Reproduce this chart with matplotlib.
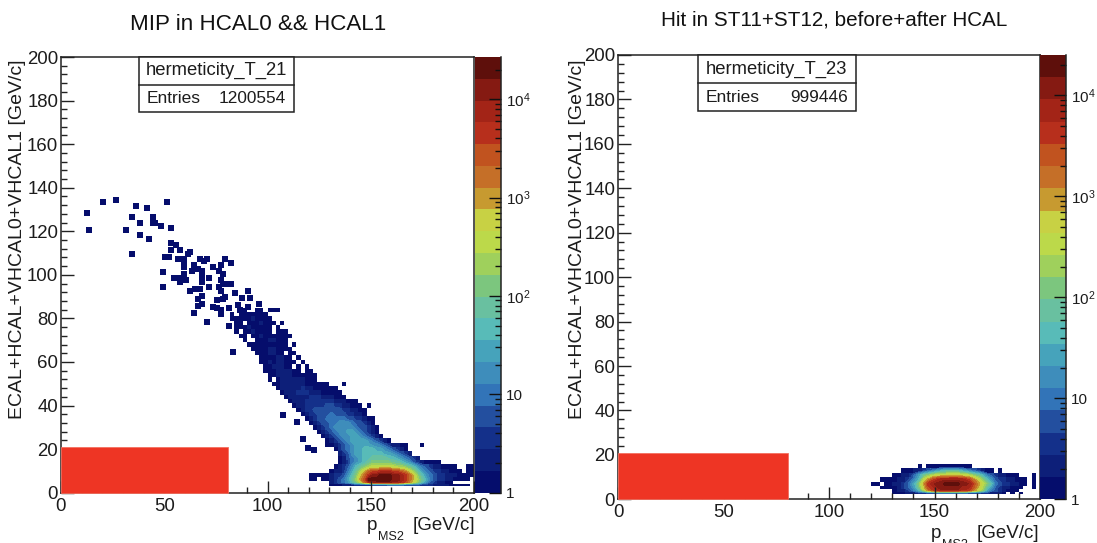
import numpy as np
import matplotlib
matplotlib.use("Agg")
import matplotlib.pyplot as plt
from matplotlib.colors import ListedColormap, BoundaryNorm
from matplotlib.patches import Rectangle
from matplotlib.ticker import LogLocator, FixedLocator, FixedFormatter, NullFormatter, MultipleLocator

plt.rcParams.update({
    "font.family": ["Liberation Sans", "DejaVu Sans"],
    "mathtext.fontset": "custom",
    "mathtext.rm": "Liberation Sans",
    "mathtext.it": "Liberation Sans",
    "mathtext.default": "rm",
})

W, H = 1097, 543

band_colors = ["#050d6c", "#0d1f79", "#14308a", "#234f9f", "#3274b8", "#3e8dbb", "#46a3bb",
               "#58bbb8", "#69c0a0", "#7cc67e", "#9fd05c", "#bcd94a", "#c8d144", "#c79a30",
               "#c56f28", "#c1531f", "#b72f1c", "#a32417", "#851a12", "#5e0f0b"]

panel_titles = ["MIP in HCAL0 && HCAL1", "Hit in ST11+ST12, before+after HCAL"]
hist_names = ["hermeticity_T_21", "hermeticity_T_23"]
entries = ["1200554", "999446"]
y_label = "ECAL+HCAL+VHCAL0+VHCAL1 [GeV/c]"

# left panel: isolated single-entry cells
sparse_x = [12.6, 13.55, 20.5, 26.5, 36.5, 41.5, 51.5, 34.5, 44.5, 38.4, 44.5, 45.5, 48.4, 53.4, 31.5,
            38.4, 42.4, 34.5, 53.4, 55.5, 57.5, 53.4, 62.4, 61.5, 50.5, 52.5, 56.5, 59.5, 67.5, 70.5,
            69.4, 79.4, 82.5, 77.4, 73.4, 59.5, 59.5, 64.4, 66.5, 68.4, 63.6, 76.5, 78.6, 49.5, 59.5,
            59.5, 54.5, 56.5, 60.5, 57.6, 68.4, 68.4, 71.5, 77.6, 78.6, 80.5, 82.5, 49.5, 71.5, 76.5,
            64.7, 62.4, 67.5, 77.4, 84.5, 90.5, 68.4, 66.5, 75.5, 79.4, 78.6, 87.5, 91.5, 85.5, 96.0,
            68.4, 66.5, 73.4, 75.5, 77.6, 81.5, 90.5, 86.6, 64.4, 77.6, 70.5, 81.5, 83.4,
            107.3, 114.4, 117.3, 119.4, 122.3]
sparse_y = [128.4, 120.4, 133.3, 134.3, 131.5, 130.5, 133.3, 126.5, 126.5, 123.6, 123.6, 123.6, 122.5, 121.4, 120.4,
            118.5, 116.5, 109.5, 114.6, 113.6, 111.3, 111.3, 110.6, 109.5, 108.4, 108.4, 107.5, 107.5, 107.5, 107.5,
            106.4, 107.5, 105.5, 104.5, 103.5, 105.5, 103.5, 104.5, 102.6, 101.7, 101.7, 101.7, 100.6, 101.5, 100.6,
            98.8, 98.5, 98.5, 97.6, 96.5, 98.8, 96.5, 98.5, 97.6, 95.6, 95.6, 95.6, 94.5, 94.5, 94.5,
            93.6, 92.5, 93.6, 92.7, 91.6, 92.5, 90.5, 88.7, 88.4, 90.0, 88.7, 89.5, 89.5, 86.0, 86.6,
            86.6, 85.7, 85.4, 85.0, 84.0, 84.6, 85.4, 83.8, 82.6, 82.0, 78.5, 76.6, 64.7,
            35.6, 32.6, 24.8, 20.6, 19.6]

# cell levels: '.' empty, 1-9, a=10 ... k=20 (colour band of each cell)
left_row_y = [84, 82, 80, 78, 76, 74, 72, 70, 68, 66, 64, 62, 60, 58, 56, 54, 52, 50, 48, 46, 44,
              42, 40, 38, 36, 34, 32, 30, 28, 26, 24, 22, 20, 18, 16, 14, 12, 10, 8, 6, 4.7, 3.7]
left_row_x = [86, 82, 82, 84, 84, 84, 86, 88, 90, 92, 94, 96, 96, 98, 98, 100, 100, 102, 104, 106, 108,
              110, 112, 114, 116, 118, 120, 122, 124, 126, 128, 128, 132, 134, 134, 134, 132, 130, 120, 120, 130, 130]
left_row_levels = [
    "11..11.111", "1.1111111", "1111121111", "11.1112111.1", "111211111.1", "1.1121111.111",
    "11.1121111111", "1..11122111", "1111111111.1", "1111221111", "1112211.11", "11112211.1",
    "112122111.1", "1122211.1.1", "111222211.11", "112222111111", "1.1222222111", "11222222111111...1",
    "122222322111111", "122233322211111", "122222333222111", "12223333333222111", "12233333443322111.1",
    "12334444444332211", "1233444544433221", "12344555554433211", "1234455666544321", "1234566666544321",
    "123456677654321", "123456677654321", "1234567777654321", "11234567777665432211...1",
    "134567788877654321", "234677888887765432", "12456788999988765432", "12356789aaaaa998764321111",
    "1234689abccccccbba986543221111..11", "1223579bdfgghhhggfeca86543322111.11",
    "11111233468adfhjjkkkjjihfda8654332221111", "11.11234579begkkkkkkjjihfdb975433221111.11",
    "234568acfhijjjjiihgeca86432211", "1112223333444455554444333222211111"]

right_row_y = [15, 13, 11, 9, 7, 5, 3.9, 2.9]
right_row_x = [142, 134, 130, 124, 120, 124, 130, 130]
right_row_levels = [
    "1.11111111111", "1112234567888876543211.1",
    "11223579abcccdddccba9754322111...1", "1111223468ceghiiiiiihgeca8643322111.1",
    "11.11223468behijjkkkkjjigeca854332211.1", "111123457adghijjjjjiihfdb864322111..1",
    "1223468beghiiiiihhgeca75432111", "111222334455555555444332221.1.1"]

cbar_decades = [4.43, 4.40]
red_box_x = [80.8, 80.6]
red_box_y = [21.0, 20.7]

axes_px = [(61, 57, 474, 492.7), (618, 55, 1040, 499.3)]
cbar_px = [(475, 57, 500.7, 492.7), (1040, 55, 1066, 499.3)]
box_px = [(138.7, 84.7, 294, 112), (698, 83, 855.7, 111)]
title_xy = [(258, 24), (834, 20)]
title_size = [16.1, 14.9]
ylabel_x = [18, 578]
p_px = [367, 931]
sub_px = [378, 942]
unit_px = [475, 1039]
label_base = [530, 538]


def rect(px):
    x0, y0, x1, y1 = px
    return [x0 / W, 1 - y1 / H, (x1 - x0) / W, (y1 - y0) / H]


def to_grid(row_y, row_x, row_levels):
    chars = ".123456789abcdefghijk"
    xs = np.arange(78, 200, 2)
    ys = np.array(sorted(row_y), dtype=float)
    L = np.zeros((len(ys), len(xs)))
    for y, x0, s in zip(row_y, row_x, row_levels):
        j = int(np.argmin(np.abs(ys - y)))
        i0 = int((x0 - 78) / 2)
        for k, c in enumerate(s):
            if i0 + k < len(xs):
                L[j, i0 + k] = chars.index(c)
    return xs, ys, L


fig = plt.figure(figsize=(W / 100, H / 100), dpi=100, facecolor="white")
rows = [(left_row_y, left_row_x, left_row_levels), (right_row_y, right_row_x, right_row_levels)]

for p in range(2):
    ax = fig.add_axes(rect(axes_px[p]))
    xs, ys, L = to_grid(*rows[p])
    xe = np.append(xs, xs[-1] + 2)
    ye = np.concatenate([[ys[0] - 0.5], (ys[:-1] + ys[1:]) / 2, [ys[-1] + 1]])
    bounds = 10 ** (np.arange(21) * cbar_decades[p] / 20)
    cmap = ListedColormap(band_colors)
    norm = BoundaryNorm(bounds, 20)
    counts = np.ma.masked_where(L == 0, 10 ** ((L - 0.5) * cbar_decades[p] / 20))
    ax.pcolormesh(xe, ye, counts, cmap=cmap, norm=norm, zorder=1)
    ax.contourf(xs + 1, ys, L, levels=np.arange(3.5, 21.5), colors=band_colors[3:20], zorder=1.2)
    if p == 0:
        ax.scatter(sparse_x, sparse_y, marker="s", s=16, color=band_colors[0], linewidths=0, zorder=1.1)
    ax.add_patch(Rectangle((0, 0), red_box_x[p], red_box_y[p], facecolor="#ee3524",
                           edgecolor="#f4705f", lw=0.6, zorder=5, clip_on=False))
    ax.set_xlim(0, 200)
    ax.set_ylim(0, 200)
    ax.xaxis.set_major_locator(MultipleLocator(50))
    ax.xaxis.set_minor_locator(MultipleLocator(10))
    ax.yaxis.set_major_locator(MultipleLocator(20))
    ax.yaxis.set_minor_locator(MultipleLocator(4))
    ax.tick_params(which="major", direction="in", length=9, width=1.0, color="#222222",
                   labelsize=13.4, labelcolor="#1c1c1c", pad=2)
    ax.tick_params(which="minor", direction="in", length=4.5, width=1.0, color="#222222")
    ax.tick_params(axis="x", which="major", pad=3.5)
    for s in ax.spines.values():
        s.set_linewidth(1.1)
        s.set_color("#222222")
    ax.set_facecolor("white")

    # statistics box
    bx0, by0, bx1, by1 = box_px[p]
    ax_left, ax_top, ax_right, ax_bottom = axes_px[p]
    fx = lambda v: (v - ax_left) / (ax_right - ax_left)
    fy = lambda v: (ax_bottom - v) / (ax_bottom - ax_top)
    top = ax_top
    ax.add_patch(Rectangle((fx(bx0), fy(by1)), fx(bx1) - fx(bx0), fy(top) - fy(by1), transform=ax.transAxes,
                           facecolor="white", edgecolor="#222222", lw=1.1, zorder=6, clip_on=False))
    ax.plot([fx(bx0), fx(bx1)], [fy(by0), fy(by0)], transform=ax.transAxes, color="#222222", lw=1.1,
            zorder=7, clip_on=False)
    ax.text((fx(bx0) + fx(bx1)) / 2, (fy(top) + fy(by0)) / 2, hist_names[p], transform=ax.transAxes,
            ha="center", va="center", fontsize=13.3, color="#1c1c1c", zorder=8)
    ax.text(fx(bx0 + 8), (fy(by0) + fy(by1)) / 2, "Entries", transform=ax.transAxes, ha="left", va="center",
            fontsize=12.5, color="#1c1c1c", zorder=8)
    ax.text(fx(bx1 - 8), (fy(by0) + fy(by1)) / 2, entries[p], transform=ax.transAxes, ha="right", va="center",
            fontsize=12.4, color="#1c1c1c", zorder=8)

    # palette
    cax = fig.add_axes(rect(cbar_px[p]))
    cax.pcolormesh([0, 1], bounds, np.arange(20).reshape(-1, 1), cmap=cmap, vmin=-0.5, vmax=19.5)
    cax.set_yscale("log")
    cax.set_ylim(1, bounds[-1])
    cax.set_xticks([])
    cax.yaxis.tick_right()
    cax.yaxis.set_major_locator(FixedLocator([1, 10, 100, 1000, 10000]))
    cax.yaxis.set_major_formatter(FixedFormatter(["1", "10", "$10^{2}$", "$10^{3}$", "$10^{4}$"]))
    cax.yaxis.set_minor_locator(LogLocator(base=10, subs=np.arange(2, 10), numticks=12))
    cax.yaxis.set_minor_formatter(NullFormatter())
    cax.tick_params(which="major", direction="in", length=9, width=1.0, color="#111111",
                    labelsize=11, labelcolor="#1c1c1c", pad=3.5, right=True, left=False)
    cax.tick_params(which="minor", direction="in", length=4.5, width=1.0, color="#111111", right=True, left=False)
    for name, s in cax.spines.items():
        s.set_visible(name == "right")
        s.set_color("#222222")
        s.set_linewidth(1.1)

    fig.text(title_xy[p][0] / W, 1 - title_xy[p][1] / H, panel_titles[p], ha="center", va="center",
             fontsize=title_size[p], color="#111111")
    fig.text(ylabel_x[p] / W, 1 - 239 / H, y_label, rotation=90, ha="center", va="center",
             fontsize=14.0, color="#1c1c1c")
    base = 1 - label_base[p] / H
    fig.text(p_px[p] / W, base, "p", ha="left", va="baseline", fontsize=13.5, color="#1c1c1c")
    fig.text(sub_px[p] / W, 1 - (label_base[p] + 10) / H, "MS2", ha="left", va="baseline",
             fontsize=9.1, color="#1c1c1c")
    fig.text(unit_px[p] / W, base, "[GeV/c]", ha="right", va="baseline", fontsize=13.5, color="#1c1c1c")

fig.savefig("out.png", dpi=100)
